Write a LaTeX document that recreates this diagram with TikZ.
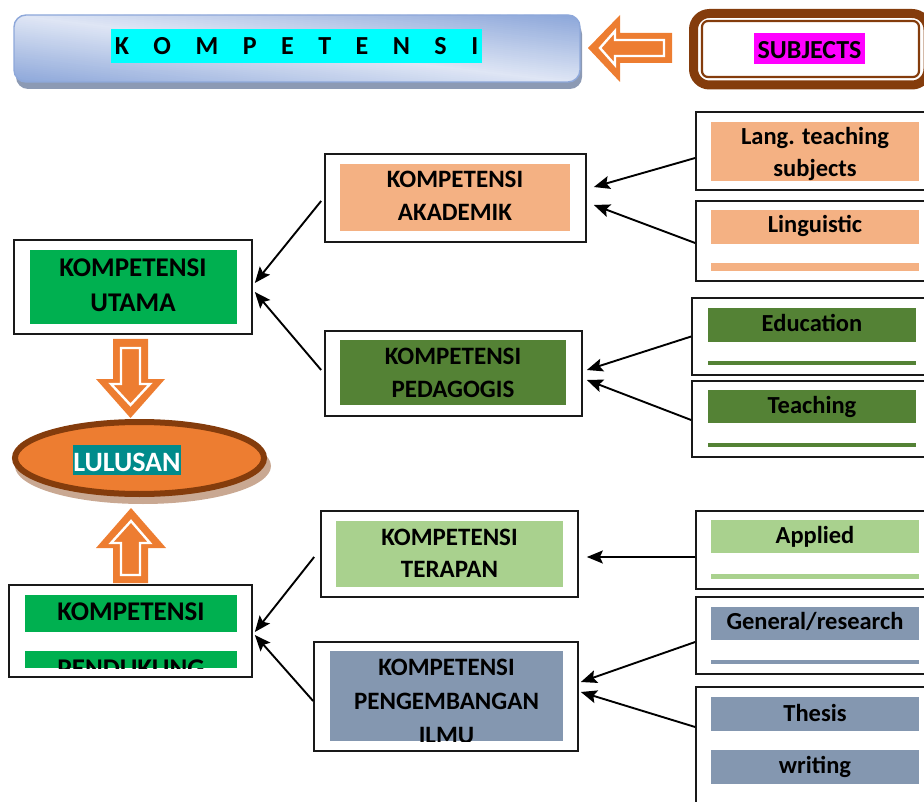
\documentclass[tikz,border=0pt]{standalone}
\usepackage{fontspec}
\setmainfont{Carlito}
\usetikzlibrary{arrows.meta,fit,shapes.geometric}
\definecolor{peach}{HTML}{F4B183}
\definecolor{kgreen}{HTML}{00B050}
\definecolor{dgreen}{HTML}{548235}
\definecolor{lgreen}{HTML}{A9D18E}
\definecolor{slate}{HTML}{8497B0}
\definecolor{aorange}{HTML}{ED7D31}
\definecolor{kbrown}{HTML}{843C0C}
\definecolor{ktan}{HTML}{C9A892}
\definecolor{kteal}{HTML}{008B8B}
\definecolor{kcyan}{HTML}{00FFFF}
\definecolor{kmagenta}{HTML}{FF00FF}
\definecolor{barlight}{HTML}{DFE6F5}
\definecolor{bardark}{HTML}{8EA8DA}
\definecolor{barshadow}{HTML}{8C9AB4}
\newcommand{\kgap}{\hspace{24.5pt}}
\begin{document}
\begin{tikzpicture}[x=1pt,y=-1pt,
  obox/.style={draw=black!90, line width=1.7pt, inner sep=0pt},
  arr/.style={-{Stealth[length=16pt,width=13pt,inset=3pt]}, line width=1.9pt},
  txtL/.style={anchor=base, inner sep=0pt, font=\fontsize{27}{32}\selectfont\bfseries},
  txtM/.style={anchor=base, inner sep=0pt, font=\fontsize{25}{30}\selectfont\bfseries},
  txtR/.style={anchor=base, inner sep=0pt, font=\fontsize{24.5}{30}\selectfont\bfseries},
  blockarrow/.style={fill=aorange},
  innerarrow/.style={draw=white, line width=2.4pt, fill=aorange}]
\useasboundingbox (0,0) rectangle (924,802);
\begin{scope}
\clip (0,0) rectangle (924,802);

% ---------- top bar ----------
\fill[barshadow, rounded corners=12pt] (16,22) rectangle (582,89);
\begin{scope}
\clip[rounded corners=12pt] (14,15) rectangle (580,82);
\fill[bardark] (14,15) rectangle (580,82);
\foreach \i in {-76,-74,...,76} {
  \pgfmathsetmacro\tt{min(100,abs(\i)/66*100)}
  \pgfmathsetmacro\ya{12.9+\i}
  \pgfmathsetmacro\yb{84.9+\i}
  \fill[bardark!\tt!barlight] (0,\ya) -- (600,\yb) -- (600,\yb+3) -- (0,\ya+3) -- cycle;
}
\end{scope}
\draw[bardark, line width=1.4pt, rounded corners=12pt] (14,15) rectangle (580,82);
\fill[kcyan] (111,29) rectangle (482,63);
\node[anchor=base, inner sep=0pt, font=\fontsize{26}{30}\selectfont\bfseries] (komp) at (296.5,55)
  {K\kgap O\kgap M\kgap P\kgap E\kgap T\kgap E\kgap N\kgap S\kgap I};

% left block arrow
\fill[blockarrow] (672,33) -- (672,63) -- (620,63) -- (620,82) -- (588,48) -- (620,15) -- (620,33) -- cycle;
\draw[innerarrow] (664,40) -- (664,56) -- (615,56) -- (615,65) -- (600,48) -- (615,31) -- (615,40) -- cycle;

% SUBJECTS box
\draw[kbrown, line width=9pt, rounded corners=16pt] (693.5,13.5) rectangle (928,85);
\draw[kbrown, line width=2.2pt, rounded corners=6pt] (702,21) rectangle (919,77);
\fill[kmagenta] (754,33) rectangle (865,64);
\node[anchor=base, inner sep=0pt, font=\fontsize{26}{30}\selectfont\bfseries] (subj) at (809.5,59) {SUBJECTS};

% ---------- left column ----------
\node[obox, fit={(14,240)(252,334)}] (utama) {};
\fill[kgreen] (30,250) rectangle (237,324);
\node[txtL] (utama1) at (133,277) {KOMPETENSI};
\node[txtL] (utama2) at (133,312) {UTAMA};

% down arrow
\fill[blockarrow] (113,339) -- (148,339) -- (148,379) -- (165,379) -- (130.5,418) -- (96,379) -- (113,379) -- cycle;
\draw[innerarrow] (121,348) -- (140,348) -- (140,384) -- (150,384) -- (130.5,405) -- (111,384) -- (121,384) -- cycle;

% ellipse
\fill[ktan] (143,466) ellipse [x radius=128pt, y radius=38pt];
\node[ellipse, draw=kbrown, line width=6pt, fill=aorange, minimum width=249pt, minimum height=72pt, inner sep=0pt] (lulusan) at (139.5,458) {};
\fill[kteal] (73,445) rectangle (181,475);
\node[anchor=base, inner sep=0pt, text=white, font=\fontsize{28}{32}\selectfont\bfseries] (lulusanT) at (127,471) {LULUSAN};

% up arrow
\fill[blockarrow] (113,583) -- (148,583) -- (148,548) -- (166,548) -- (131,508) -- (96,548) -- (113,548) -- cycle;
\draw[innerarrow] (121,575) -- (140,575) -- (140,543) -- (150,543) -- (131,521) -- (111,543) -- (121,543) -- cycle;

\node[obox, fit={(9,585)(252,677)}] (pend) {};
\fill[kgreen] (25,595) rectangle (237,632);
\fill[kgreen] (25,651) rectangle (237,668);
\node[txtL] (pend1) at (131,620) {KOMPETENSI};
\begin{scope}
\clip (25,651) rectangle (237,668);
\node[txtL] (pend2) at (131,677) {PENDUKUNG};
\end{scope}

% ---------- middle column ----------
\node[obox, fit={(325,154)(586,242)}] (akad) {};
\fill[peach] (340,164) rectangle (570,231);
\node[txtM] (akad1) at (455,188) {KOMPETENSI};
\node[txtM] (akad2) at (455,221) {AKADEMIK};

\node[obox, fit={(325,331)(582,416)}] (peda) {};
\fill[dgreen] (340,340) rectangle (566,405);
\node[txtM] (peda1) at (453,364) {KOMPETENSI};
\node[txtM] (peda2) at (453,397) {PEDAGOGIS};

\node[obox, fit={(321,511)(578,597)}] (terapan) {};
\fill[lgreen] (336,521) rectangle (563,587);
\node[txtM] (terapan1) at (449.5,545) {KOMPETENSI};
\node[txtM] (terapan2) at (449.5,577) {TERAPAN};

\node[obox, fit={(314,642)(578,751)}] (peng) {};
\fill[slate] (330,651) rectangle (563,741);
\node[txtM] (peng1) at (446.5,675) {KOMPETENSI};
\node[txtM] (peng2) at (446.5,709) {PENGEMBANGAN};
\begin{scope}
\clip (330,651) rectangle (563,741);
\node[txtM] (peng3) at (446.5,743) {ILMU};
\end{scope}

% ---------- right column ----------
\node[obox, fit={(696,112)(935,190)}] (lang) {};
\fill[peach] (711,122) rectangle (919,181);
\node[txtR] (lang1) at (815,145) {Lang. teaching};
\begin{scope}
\clip (711,122) rectangle (919,181);
\node[txtR] (lang2) at (815,177) {subjects};
\end{scope}

\node[obox, fit={(696,201)(935,281)}] (ling) {};
\fill[peach] (711,210) rectangle (919,244);
\fill[peach] (711,263) rectangle (919,271);
\node[txtR] (ling1) at (815,233) {Linguistic};

\node[obox, fit={(692,298)(935,375)}] (edu) {};
\fill[dgreen] (708,308) rectangle (916,342);
\fill[dgreen] (708,361) rectangle (916,365);
\node[txtR] (edu1) at (812,332) {Education};

\node[obox, fit={(692,381)(935,457)}] (teach) {};
\fill[dgreen] (708,390) rectangle (916,423);
\fill[dgreen] (708,443) rectangle (916,447);
\node[txtR] (teach1) at (812,413) {Teaching};

\node[obox, fit={(696,511)(935,589)}] (applied) {};
\fill[lgreen] (711,520) rectangle (919,553);
\fill[lgreen] (711,574) rectangle (919,579);
\node[txtR] (applied1) at (815,543) {Applied};

\node[obox, fit={(696,597)(935,674)}] (general) {};
\fill[slate] (711,607) rectangle (919,640);
\fill[slate] (711,660) rectangle (919,664);
\node[txtR] (general1) at (815,629) {General/research};

\node[obox, fit={(696,687)(935,810)}] (thesis) {};
\fill[slate] (711,697) rectangle (919,731);
\fill[slate] (711,750) rectangle (919,784);
\node[txtR] (thesis1) at (815,721) {Thesis};
\node[txtR] (thesis2) at (815,773) {writing};

% ---------- connectors ----------
\draw[arr] ([yshift=-7pt]lang.west) -- ([xshift=7pt,yshift=11pt]akad.east);
\draw[arr] ([yshift=-2pt]ling.west) -- ([xshift=7pt,yshift=-7pt]akad.east);
\draw[arr] (edu.west) -- ([xshift=4pt,yshift=3.5pt]peda.east);
\draw[arr] ([yshift=-1pt]teach.west) -- ([xshift=4pt,yshift=-6.5pt]peda.east);
\draw[arr] ([xshift=-3pt,yshift=-3pt]akad.west) -- ([xshift=2pt,yshift=4pt]utama.east);
\draw[arr] ([xshift=-3pt,yshift=3.5pt]peda.west) -- ([xshift=2pt,yshift=-5pt]utama.east);
\draw[arr] ([yshift=-7pt]applied.west) -- ([xshift=8pt,yshift=-3pt]terapan.east);
\draw[arr] ([yshift=-6.5pt]general.west) -- ([xshift=2pt,yshift=14.5pt]peng.east);
\draw[arr] ([yshift=21.5pt]thesis.west) -- ([xshift=2pt,yshift=4.5pt]peng.east);
\draw[arr] ([xshift=-6pt,yshift=-3pt]terapan.west) -- ([xshift=2pt,yshift=-1pt]pend.east);
\draw[arr] ([yshift=-4.5pt]peng.west) -- ([xshift=2pt,yshift=-4pt]pend.east);
\end{scope}
\end{tikzpicture}
\end{document}
